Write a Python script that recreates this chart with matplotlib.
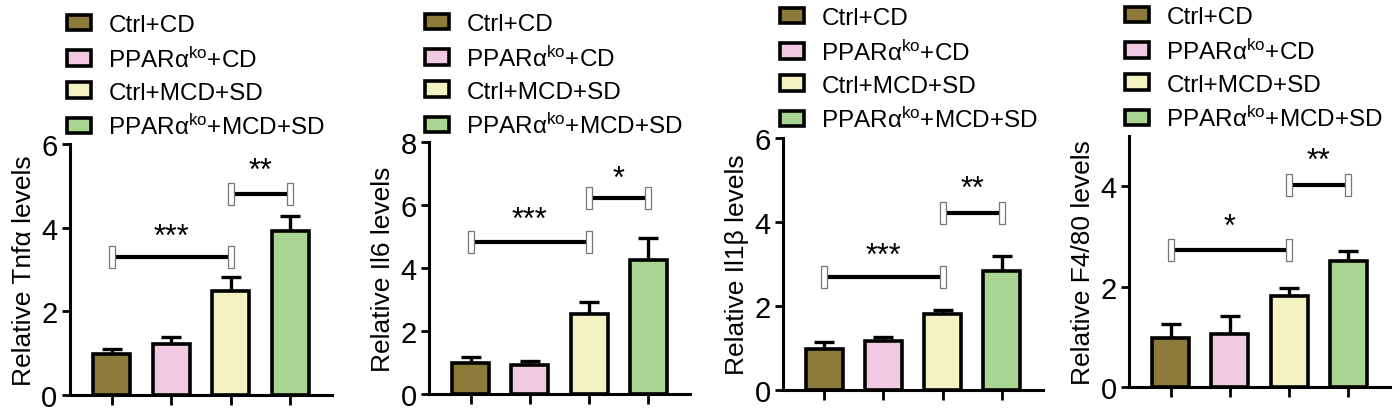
import matplotlib
matplotlib.use("Agg")
import matplotlib.pyplot as plt
from matplotlib.patches import Patch
from matplotlib.path import Path
import numpy as np

plt.rcParams['font.family'] = ['Liberation Sans', 'DejaVu Sans']
plt.rcParams['mathtext.fontset'] = 'custom'
plt.rcParams['mathtext.rm'] = 'Liberation Sans'
plt.rcParams['mathtext.it'] = 'Liberation Sans:italic'

groups = ['Ctrl+CD', r'PPARα$^{\mathrm{ko}}$+CD', 'Ctrl+MCD+SD', r'PPARα$^{\mathrm{ko}}$+MCD+SD']
colors = ['#8C7A3A', '#F1C9E0', '#F2F2C2', '#A8D592']

ylabels = ['Relative Tnfα levels', 'Relative Il6 levels', 'Relative Il1β levels', 'Relative F4/80 levels']
tnfa_mean = [0.98, 1.22, 2.48, 3.93]
tnfa_err = [0.12, 0.16, 0.33, 0.36]
il6_mean = [0.98, 0.92, 2.54, 4.26]
il6_err = [0.18, 0.14, 0.39, 0.70]
il1b_mean = [0.97, 1.17, 1.82, 2.83]
il1b_err = [0.18, 0.10, 0.08, 0.36]
f480_mean = [0.98, 1.05, 1.82, 2.51]
f480_err = [0.27, 0.36, 0.16, 0.20]
means = [tnfa_mean, il6_mean, il1b_mean, f480_mean]
errs = [tnfa_err, il6_err, il1b_err, f480_err]
ylims = [6, 8, 6, 5]
yticks = [[0, 2, 4, 6], [0, 2, 4, 6, 8], [0, 2, 4, 6], [0, 2, 4]]

# significance: (i, j, bracket y, star centre y, label)
sig_left = [(0, 2, 3.29, 4.01, '***'), (0, 2, 4.81, 5.85, '***'), (0, 2, 2.69, 3.43, '***'), (0, 2, 2.73, 3.38, '*')]
sig_right = [(2, 3, 4.81, 5.60, '**'), (2, 3, 6.21, 7.14, '*'), (2, 3, 4.22, 5.03, '**'), (2, 3, 4.02, 4.70, '**')]

axes_pos = [
    (70, 332, 145, 396),
    (429, 690, 143, 395),
    (783, 1043, 139, 391),
    (1129, 1390, 137, 388),
]
legend_pos = [(67, 15), (425, 14), (780, 8), (1125, 7)]

W, H = 1397, 414
fig = plt.figure(figsize=(W / 100, H / 100), dpi=100)

capverts = [(-0.12, -0.5), (0.12, -0.5), (0.12, 0.5), (-0.12, 0.5), (-0.12, -0.5)]
cap_path = Path(capverts, [Path.MOVETO, Path.LINETO, Path.LINETO, Path.LINETO, Path.CLOSEPOLY])

star_fs = 22
x = np.arange(4)
for k in range(4):
    l, r, t, b = axes_pos[k]
    ax = fig.add_axes([l / W, 1 - b / H, (r - l) / W, (b - t) / H])
    ax.bar(x, means[k], width=0.62, color=colors, edgecolor='black', linewidth=2.6, zorder=2)
    ax.errorbar(x, means[k], yerr=[np.zeros(4), errs[k]], fmt='none', ecolor='black',
                elinewidth=2.4, capsize=7, capthick=2.4, zorder=1)
    for (i, j, by, sy, lab) in (sig_left[k], sig_right[k]):
        ax.plot([x[i], x[j]], [by, by], color='black', lw=3, zorder=3, solid_capstyle='butt')
        ax.plot([x[i], x[j]], [by, by], ls='none', marker=cap_path, ms=16, mfc='white',
                mec='#777777', mew=0.9, zorder=4)
        ax.annotate(lab, xy=((x[i] + x[j]) / 2, sy), xytext=(0, -0.58 * star_fs),
                    textcoords='offset points', ha='center', va='baseline',
                    fontsize=star_fs, zorder=5)
    ax.set_xlim(-0.7, 3.7)
    ax.set_ylim(0, ylims[k])
    ax.set_yticks(yticks[k])
    ax.set_xticks(x)
    ax.set_xticklabels([])
    ax.spines['top'].set_visible(False)
    ax.spines['right'].set_visible(False)
    for s in ('left', 'bottom'):
        ax.spines[s].set_linewidth(2.2)
    ax.tick_params(axis='both', width=2.0, labelsize=21)
    ax.tick_params(axis='x', length=7)
    ax.tick_params(axis='y', length=6, pad=3)
    ax.set_ylabel(ylabels[k], fontsize=19, labelpad=4)

    handles = [Patch(facecolor=c, edgecolor='black', linewidth=2.6) for c in colors]
    lx, ly = legend_pos[k]
    ax.legend(handles, groups, loc='upper left', bbox_to_anchor=(lx / W, 1 - ly / H),
              bbox_transform=fig.transFigure, frameon=False, fontsize=17.5,
              handlelength=1.0, handleheight=0.62, handletextpad=0.7,
              labelspacing=0.42, borderpad=0, borderaxespad=0)

fig.savefig('out.png', dpi=100)
